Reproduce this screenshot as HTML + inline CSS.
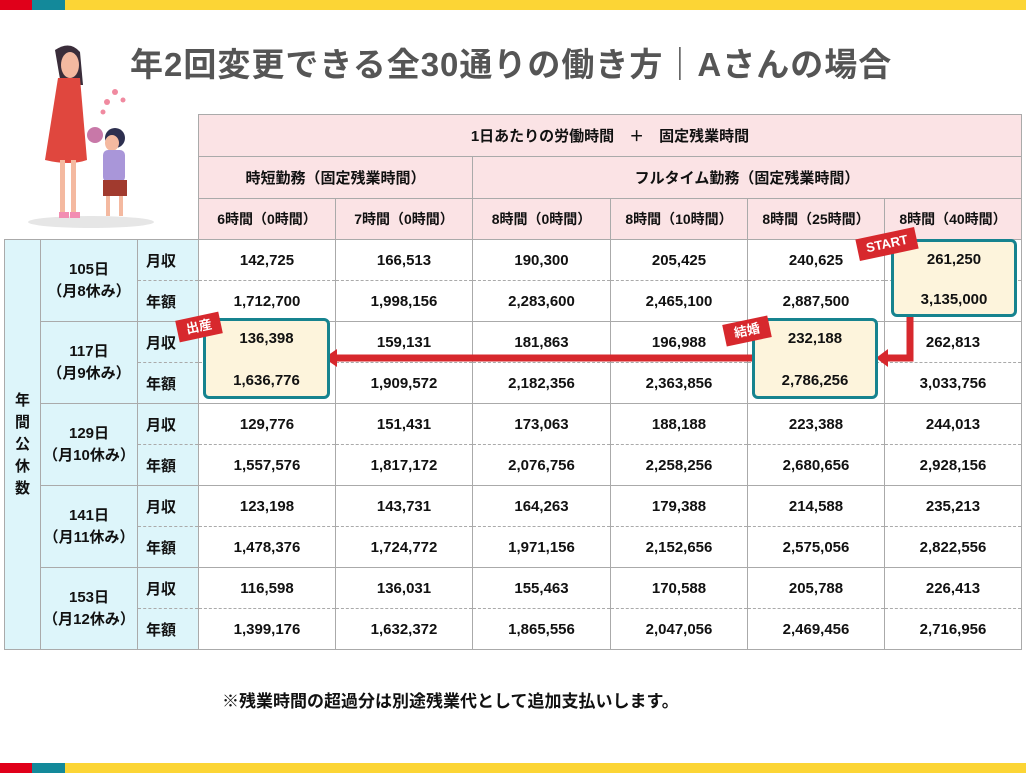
<!DOCTYPE html><html><head><meta charset="utf-8"><style>
body{margin:0;width:1026px;height:773px;position:relative;overflow:hidden;background:#fff;font-family:"Liberation Sans","Noto Sans CJK JP",sans-serif;}
.bar{position:absolute;left:0;width:1026px;height:10px;background:#fcd535}
.bar i{position:absolute;top:0;height:10px}
h1{position:absolute;left:130px;top:38px;margin:0;font-size:33px;color:#555;font-weight:bold;letter-spacing:1px}
table{position:absolute;left:4px;top:114px;border-collapse:collapse;font-weight:bold;font-size:15px;color:#111}
td{border:1px solid #aaa;text-align:center;padding:0;height:40px}
.h{background:#fbe3e5}
.l{background:#ddf5fa}
tr.a td.d{border-bottom:1px dashed #aaa}
tr.b td.d{border-top:1px dashed #aaa}
.box{position:absolute;border:3px solid #16838f;border-radius:6px;background:#fdf4dc;box-sizing:border-box;font-weight:bold;font-size:15px;text-align:center;color:#111}
.box div{position:absolute;left:0;right:0}
.tag{position:absolute;background:#d7282d;color:#fff;font-weight:bold;font-size:13px;text-align:center;transform:rotate(-12deg)}
</style></head><body>
<div class="bar" style="top:0"><i style="left:0;width:32px;background:#e0001a"></i><i style="left:32px;width:33px;background:#13899a"></i></div>
<div class="bar" style="top:763px"><i style="left:0;width:32px;background:#e0001a"></i><i style="left:32px;width:33px;background:#13899a"></i></div>
<h1>年2回変更できる全30通りの働き方｜Aさんの場合</h1>
<svg style="position:absolute;left:25px;top:40px" width="140" height="190">
<ellipse cx="66" cy="182" rx="63" ry="6" fill="#e6e6e6"/>
<path d="M30 10 Q45 0 55 12 L58 45 L36 45 Z" fill="#3a2d3a"/>
<ellipse cx="45" cy="25" rx="9" ry="13" fill="#f4b9a0"/>
<path d="M33 38 L55 38 L62 120 Q45 126 20 120 Z" fill="#e0473e"/>
<rect x="35" y="120" width="5" height="55" fill="#f4b9a0"/><rect x="46" y="120" width="5" height="55" fill="#f4b9a0"/>
<rect x="34" y="172" width="10" height="6" fill="#f28db2"/><rect x="45" y="172" width="10" height="6" fill="#f28db2"/>
<circle cx="70" cy="95" r="8" fill="#c878a8"/>
<circle cx="90" cy="98" r="10" fill="#2d2f4f"/><ellipse cx="87" cy="103" rx="7" ry="8" fill="#f4b9a0"/>
<rect x="78" y="110" width="22" height="32" rx="5" fill="#a996d9"/>
<rect x="78" y="140" width="24" height="16" fill="#a13a2e"/>
<rect x="81" y="156" width="4" height="20" fill="#f4b9a0"/><rect x="94" y="156" width="4" height="20" fill="#f4b9a0"/>
<circle cx="82" cy="62" r="3" fill="#f08aa0"/><circle cx="90" cy="52" r="3" fill="#f08aa0"/><circle cx="98" cy="60" r="2.5" fill="#f08aa0"/><circle cx="78" cy="72" r="2.5" fill="#f08aa0"/>
</svg>
<table>
<colgroup><col style="width:36px"><col style="width:97px"><col style="width:61px"><col style="width:137px"><col style="width:137px"><col style="width:138px"><col style="width:137px"><col style="width:137px"><col style="width:137px"></colgroup>
<tr><td colspan="3" style="border:none"></td><td class="h" colspan="6" style="height:41px">1日あたりの労働時間　＋　固定残業時間</td></tr>
<tr><td colspan="3" style="border:none"></td><td class="h" colspan="2" style="height:41px">時短勤務（固定残業時間）</td><td class="h" colspan="4">フルタイム勤務（固定残業時間）</td></tr>
<tr style="font-size:14px"><td colspan="3" style="border:none;border-bottom:1px solid #aaa"></td><td class="h">6時間（0時間）</td><td class="h">7時間（0時間）</td><td class="h">8時間（0時間）</td><td class="h">8時間（10時間）</td><td class="h">8時間（25時間）</td><td class="h">8時間（40時間）</td></tr>
<tr class="a"><td class="l" rowspan="10" style="line-height:22px">年<br>間<br>公<br>休<br>数</td><td class="l" rowspan="2" style="line-height:22px">105日<br>（月8休み）</td><td class="l d" style="text-align:left;padding-left:8px">月収</td><td class="d">142,725</td><td class="d">166,513</td><td class="d">190,300</td><td class="d">205,425</td><td class="d">240,625</td><td class="d">261,250</td></tr>
<tr class="b"><td class="l d" style="text-align:left;padding-left:8px">年額</td><td class="d">1,712,700</td><td class="d">1,998,156</td><td class="d">2,283,600</td><td class="d">2,465,100</td><td class="d">2,887,500</td><td class="d">3,135,000</td></tr>
<tr class="a"><td class="l" rowspan="2" style="line-height:22px">117日<br>（月9休み）</td><td class="l d" style="text-align:left;padding-left:8px">月収</td><td class="d">136,398</td><td class="d">159,131</td><td class="d">181,863</td><td class="d">196,988</td><td class="d">232,188</td><td class="d">262,813</td></tr>
<tr class="b"><td class="l d" style="text-align:left;padding-left:8px">年額</td><td class="d">1,636,776</td><td class="d">1,909,572</td><td class="d">2,182,356</td><td class="d">2,363,856</td><td class="d">2,786,256</td><td class="d">3,033,756</td></tr>
<tr class="a"><td class="l" rowspan="2" style="line-height:22px">129日<br>（月10休み）</td><td class="l d" style="text-align:left;padding-left:8px">月収</td><td class="d">129,776</td><td class="d">151,431</td><td class="d">173,063</td><td class="d">188,188</td><td class="d">223,388</td><td class="d">244,013</td></tr>
<tr class="b"><td class="l d" style="text-align:left;padding-left:8px">年額</td><td class="d">1,557,576</td><td class="d">1,817,172</td><td class="d">2,076,756</td><td class="d">2,258,256</td><td class="d">2,680,656</td><td class="d">2,928,156</td></tr>
<tr class="a"><td class="l" rowspan="2" style="line-height:22px">141日<br>（月11休み）</td><td class="l d" style="text-align:left;padding-left:8px">月収</td><td class="d">123,198</td><td class="d">143,731</td><td class="d">164,263</td><td class="d">179,388</td><td class="d">214,588</td><td class="d">235,213</td></tr>
<tr class="b"><td class="l d" style="text-align:left;padding-left:8px">年額</td><td class="d">1,478,376</td><td class="d">1,724,772</td><td class="d">1,971,156</td><td class="d">2,152,656</td><td class="d">2,575,056</td><td class="d">2,822,556</td></tr>
<tr class="a"><td class="l" rowspan="2" style="line-height:22px">153日<br>（月12休み）</td><td class="l d" style="text-align:left;padding-left:8px">月収</td><td class="d">116,598</td><td class="d">136,031</td><td class="d">155,463</td><td class="d">170,588</td><td class="d">205,788</td><td class="d">226,413</td></tr>
<tr class="b"><td class="l d" style="text-align:left;padding-left:8px">年額</td><td class="d">1,399,176</td><td class="d">1,632,372</td><td class="d">1,865,556</td><td class="d">2,047,056</td><td class="d">2,469,456</td><td class="d">2,716,956</td></tr>
</table>
<svg style="position:absolute;left:0;top:0" width="1026" height="773">
<path d="M910 316 V358 H885" stroke="#d7282d" stroke-width="7" fill="none"/>
<path d="M876 358 L888 349 L888 367 Z" fill="#d7282d"/>
<path d="M752 358 H335" stroke="#d7282d" stroke-width="7" fill="none"/>
<path d="M324 358 L337 349 L337 367 Z" fill="#d7282d"/>
</svg>
<div class="box" style="left:891px;top:239px;width:126px;height:78px"><div style="top:9px">261,250</div><div style="top:49px">3,135,000</div></div>
<div class="box" style="left:752px;top:318px;width:126px;height:81px"><div style="top:9px">232,188</div><div style="top:51px">2,786,256</div></div>
<div class="box" style="left:203px;top:318px;width:127px;height:81px"><div style="top:9px">136,398</div><div style="top:51px">1,636,776</div></div>
<div class="tag" style="left:857px;top:233px;width:60px;height:22px;line-height:22px">START</div>
<div class="tag" style="left:724px;top:320px;width:46px;height:22px;line-height:22px">結婚</div>
<div class="tag" style="left:177px;top:316px;width:44px;height:22px;line-height:22px">出産</div>
<div style="position:absolute;left:222px;top:687px;font-size:17px;font-weight:bold;color:#111">※残業時間の超過分は別途残業代として追加支払いします。</div>
</body></html>
